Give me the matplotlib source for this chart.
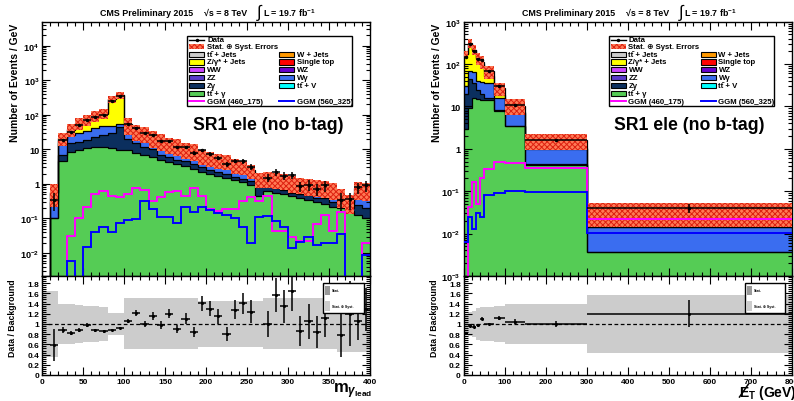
import numpy as np
import matplotlib
matplotlib.use("Agg")
import matplotlib.pyplot as plt
from matplotlib.patches import Rectangle
from matplotlib.lines import Line2D
from matplotlib.ticker import MultipleLocator, LogLocator, FuncFormatter, NullFormatter

plt.rcParams['font.family'] = ['Liberation Sans', 'DejaVu Sans']
plt.rcParams['font.weight'] = 'bold'
plt.rcParams['mathtext.fontset'] = 'custom'
plt.rcParams['mathtext.rm'] = 'Liberation Sans:bold'
plt.rcParams['mathtext.bf'] = 'Liberation Sans:bold'
plt.rcParams['mathtext.it'] = 'Liberation Sans:bold:italic'
plt.rcParams['mathtext.sf'] = 'Liberation Sans:bold'
plt.rcParams['hatch.linewidth'] = 0.7
plt.rcParams['axes.linewidth'] = 1.0

# ---------------- left panel: m_gamma_lead, 10 GeV bins ----------------
m_edges = list(range(0, 410, 10))
m_ttg = [0, 0.1, 4.6, 8.3, 9.8, 11, 11.7, 11.7, 11, 9.8, 9.3, 7.8, 7.0, 6.2, 4.8, 4.3, 3.8, 3.4, 2.7, 2.2,
         2.0, 1.75, 1.5, 1.26, 1.1, 0.9, 0.46, 0.62, 0.55, 0.5, 0.45, 0.38, 0.35, 0.3, 0.26, 0.22, 0.2, 0.16, 0.13, 0.1]
m_zg = [0, 0, 2.1, 6.7, 6.2, 8, 11.3, 14.3, 18, 34, 10.7, 7.2, 5, 4.3, 2.0, 1.7, 1.2, 1.1, 1.1, 0.9,
        0.6, 0.45, 0.4, 0.29, 0.3, 0.3, 0.47, 0.23, 0.2, 0.15, 0.1, 0.12, 0.13, 0.1, 0.12, 0.08, 0.08, 0.04, 0.12, 0.1]
m_wg = [0, 0.2, 8.3, 11, 13, 16, 19, 21, 18, 12, 15, 8, 8, 5.5, 5.0, 4.5, 4.3, 3.8, 2.8, 1.7,
        1.2, 1.2, 1.2, 1.05, 1.0, 0.7, 0.1, 0.35, 0.45, 0.35, 0.35, 0.25, 0.22, 0.2, 0.17, 0.2, 0.07, 0.05, 0.25, 0.3]
m_zjets = [0, 0.25, 4, 10, 24, 32, 48, 60, 235, 316, 14, 8, 7, 4, 4.2, 2.5, 2.3, 1.2, 1.7, 1.0,
           1.2, 0.9, 0.8, 0.5, 0.4, 0.3, 0.2, 0.15, 0.1, 0.2, 0.1, 0.15, 0.1, 0.15, 0.15, 0.1, 0.06, 0.04, 0.05, 0.05]
m_top = [0, 0.05, 2, 3, 4, 5, 6, 7, 8, 8, 4, 3, 3, 2, 2, 1.6, 1.4, 1.0, 1.0, 0.8,
         0.7, 0.7, 0.7, 0.5, 0.4, 0.3, 0.17, 0.15, 0.1, 0.1, 0.1, 0.1, 0.1, 0.1, 0.1, 0.1, 0.04, 0.01, 0.2, 0.15]
m_data = [0, 0.35, 18.5, 32, 50, 70.6, 84.5, 98, 255, 353, 56, 41.5, 30, 25.5, 17.6, 17.5, 11.7, 11.6, 7.9, 9.3,
          7.4, 5.75, 3.7, 4.6, 4.5, 3.1, 0, 1.5, 2.2, 1.75, 1.8, 0.87, 0.95, 0.72, 0.9, 0, 0.35, 0.36, 0.8, 0.9]
m_relerr = [0.65, 0.65, 0.4, 0.4, 0.38, 0.36, 0.35, 0.33, 0.22, 0.22, 0.5, 0.5, 0.5, 0.5, 0.5, 0.5, 0.5, 0.5, 0.5, 0.45,
            0.45, 0.45, 0.45, 0.45, 0.45, 0.45, 0.45, 0.5, 0.5, 0.5, 0.5, 0.5, 0.5, 0.5, 0.5, 0.5, 0.55, 0.55, 0.55, 0.55]
m_ggm460 = [0, 0, 0, 0.031, 0.1, 0.22, 0.51, 0.64, 0.46, 0.43, 0.51, 0.75, 0.67, 0.33, 0.41, 0.6, 0.62, 0.45, 0.75, 0.46,
            0.19, 0.16, 0.19, 0.19, 0.33, 0.41, 0.33, 0.46, 0.044, 0.044, 0.03, 0.022, 0.022, 0.068, 0.13, 0.044, 0.15, 0, 0, 0.019]
m_ggm560 = [0, 0, 0, 0.0058, 0, 0.015, 0.041, 0.055, 0.041, 0.076, 0.09, 0.095, 0.33, 0.19, 0.11, 0.107, 0.076, 0.22, 0.15, 0.22,
            0.17, 0.14, 0.13, 0.1, 0.055, 0.02, 0.11, 0.12, 0.085, 0.058, 0.014, 0.021, 0.03, 0.017, 0.019, 0.02, 0.036, 0, 0, 0.0085]

# ---------------- right panel: MET, variable bins ----------------
met_edges = [0, 10, 20, 30, 40, 50, 75, 100, 150, 300, 800]
met_ttg = [3, 9, 16, 15, 14, 14, 7.7, 3.4, 0.42, 0.0036]
met_zg = [17, 35, 20, 10, 6, 2, 0.5, 0.1, 0.01, 0.0001]
met_wg = [10, 26, 30, 15, 18, 20, 7.8, 3.4, 0.57, 0.011]
met_zjets = [140, 230, 144, 90, 65, 15, 3, 0.5, 0.05, 0.0]
met_top = [7, 10, 10, 9, 10, 18, 8, 3.1, 0.55, 0.0185]
met_data = [145, 295, 209, 135, 125, 69, 30, 11, 1.6, 0.04]
met_relerr = [0.18, 0.24, 0.25, 0.32, 0.34, 0.34, 0.36, 0.4, 0.4, 0.57]
met_ggm460 = [0, 0.043, 0.165, 0.05, 0.2, 0.34, 0.5, 0.47, 0.36, 0.022]
met_ggm560 = [0.0063, 0.025, 0.013, 0.03, 0.025, 0.08, 0.09, 0.1, 0.098, 0.0104]

COL = dict(ttg='#55cc55', zg='#0b2f5e', wg='#3a6df0', zjets='#ffff00', top='#ff0000',
           wjets='#ff9900', ttjets='#cccccc', ww='#cc44ff', wz='#6600cc', zz='#5a3acc', ttv='#00ffff')
BAND_FACE = '#ff7a55'
BAND_HATCH = '#dd2010'

W, H = 794, 402
fig = plt.figure(figsize=(W / 100, H / 100), dpi=100)
fig.patch.set_facecolor('white')


def add_ax(x0, y0, x1, y1):
    return fig.add_axes([x0 / W, 1 - y1 / H, (x1 - x0) / W, (y1 - y0) / H])


TINY = 1e-7


def logfmt(v, pos):
    if v <= 0:
        return ''
    k = int(round(np.log10(v)))
    if abs(v - 10.0 ** k) > 1e-6 * 10.0 ** k:
        return ''
    if k == 0:
        return '1'
    if k == 1:
        return '10'
    return r'$\mathbf{10^{%d}}$' % k


def style(ax, xmaj, xmin, size=6.6):
    ax.tick_params(which='both', direction='in', top=True, right=True, labelsize=size, pad=2, width=0.8)
    ax.tick_params(which='major', length=6)
    ax.tick_params(which='minor', length=3)
    ax.xaxis.set_major_locator(MultipleLocator(xmaj))
    ax.xaxis.set_minor_locator(MultipleLocator(xmin))


def draw_main(ax, edges, comps, data, relerr, sig1, sig2, ylim):
    edges = np.asarray(edges, float)
    widths = np.diff(edges)
    centers = edges[:-1] + widths / 2
    cum = np.zeros(len(widths))
    tops = []
    for vals, col in comps:
        new = cum + np.asarray(vals, float)
        ax.stairs(np.maximum(new, TINY), edges, baseline=np.maximum(cum, TINY), fill=True,
                  facecolor=col, edgecolor='none', lw=0, zorder=1)
        tops.append(new)
        cum = new
    for t in tops:
        ax.stairs(np.maximum(t, TINY), edges, baseline=None, color='k', lw=0.9, zorder=2)
    total = cum
    rel = np.asarray(relerr, float)
    lo = np.where(total > 0, total * (1 - rel), TINY)
    hi = np.where(total > 0, total * (1 + rel), TINY)
    ax.stairs(hi, edges, baseline=lo, fill=True, facecolor=BAND_FACE, edgecolor=BAND_HATCH,
              hatch='xxxxxx', lw=0, zorder=3)
    ax.stairs(np.maximum(np.asarray(sig1, float), TINY), edges, baseline=None, color='#ff00ff', lw=1.4, zorder=4)
    ax.stairs(np.maximum(np.asarray(sig2, float), TINY), edges, baseline=None, color='#0000ff', lw=1.4, zorder=4)
    d = np.asarray(data, float)
    err = np.sqrt(d * widths) / widths
    m = d > 0
    ax.errorbar(centers[m], d[m], xerr=widths[m] / 2, yerr=err[m], fmt='o', ms=1.5, color='k',
                ecolor='k', elinewidth=1.1, capsize=0, zorder=5)
    ax.set_yscale('log')
    ax.set_ylim(*ylim)
    ax.set_xlim(edges[0], edges[-1])
    ax.yaxis.set_major_locator(LogLocator(base=10, numticks=30))
    ax.yaxis.set_minor_locator(LogLocator(base=10, subs=np.arange(2, 10), numticks=30))
    ax.yaxis.set_major_formatter(FuncFormatter(logfmt))
    ax.yaxis.set_minor_formatter(NullFormatter())
    ax.tick_params(labelbottom=False)
    return total, d, err, centers, widths


def draw_ratio(ax, edges, total, d, err, centers, widths, relerr):
    edges = np.asarray(edges, float)
    rel = np.asarray(relerr, float)
    ax.stairs(1 + rel, edges, baseline=1 - rel, fill=True, facecolor='#cccccc', edgecolor='none', lw=0, zorder=1)
    ax.axhline(1, color='k', lw=0.9, ls=(0, (3, 2)), zorder=2)
    m = (d > 0) & (total > 0)
    ax.errorbar(centers[m], d[m] / total[m], xerr=widths[m] / 2, yerr=err[m] / total[m], fmt='o', ms=1.2,
                color='k', ecolor='k', elinewidth=1.1, capsize=0, zorder=3)
    ax.set_xlim(edges[0], edges[-1])
    ax.set_ylim(0, 1.94)
    ax.yaxis.set_major_locator(MultipleLocator(0.2))
    ax.yaxis.set_minor_locator(MultipleLocator(0.04))
    ax.yaxis.set_major_formatter(FuncFormatter(lambda v, p: '%g' % round(v, 2)))


PANELS = [
    (42.0, 370.0, m_edges, [(m_ttg, COL['ttg']), (m_zg, COL['zg']), (m_wg, COL['wg']),
                            (m_zjets, COL['zjets']), (m_top, COL['top'])],
     m_data, m_relerr, m_ggm460, m_ggm560, (2.16e-3, 4.95e4), 50, 10),
    (463.5, 792.0, met_edges, [(met_ttg, COL['ttg']), (met_zg, COL['zg']), (met_wg, COL['wg']),
                               (met_zjets, COL['zjets']), (met_top, COL['top'])],
     met_data, met_relerr, met_ggm460, met_ggm560, (1e-3, 1e3), 100, 20),
]

for (x0, x1, edges, comps, data, rel, s1, s2, ylim, xmaj, xmin) in PANELS:
    axm = add_ax(x0, 22.7, x1, 277)
    style(axm, xmaj, xmin)
    total, d, err, centers, widths = draw_main(axm, edges, comps, data, rel, s1, s2, ylim)
    axr = add_ax(x0, 277, x1, 376)
    style(axr, xmaj, xmin, size=6.0)
    draw_ratio(axr, edges, total, d, err, centers, widths, rel)

# ---------------- overlay for text / legends in pixel coordinates ----------------
ov = fig.add_axes([0, 0, 1, 1], zorder=10)
ov.set_xlim(0, W)
ov.set_ylim(H, 0)
ov.axis('off')

LEFT_COL = [('tt\u0304 + Jets', COL['ttjets'], 55.7), ('Z/\u03b3* + Jets', COL['zjets'], 63.0),
            ('WW', COL['ww'], 70.7), ('ZZ', COL['zz'], 78.6), ('Z\u03b3', COL['zg'], 86.3),
            ('tt\u0304 + \u03b3', COL['ttg'], 94.5)]
RIGHT_COL = [('W + Jets', COL['wjets'], 55.7), ('Single top', COL['top'], 63.0),
             ('WZ', COL['wz'], 70.7), ('W\u03b3', COL['wg'], 78.6), ('tt\u0304 + V', COL['ttv'], 86.3)]

for x0 in (42.0, 463.5):
    # header
    ov.text(x0 + 58, 13, 'CMS Preliminary 2015', fontsize=6.4, va='center', ha='left')
    ov.text(x0 + 162, 13, '\u221as = 8 TeV', fontsize=6.4, va='center', ha='left')
    ov.text(x0 + 215, 12.5, '\u222b', fontsize=12, fontweight='normal', va='center', ha='left')
    ov.text(x0 + 221, 13, 'L = 19.7 fb$^{-1}$', fontsize=6.4, va='center', ha='left')
    # region label
    ov.text(x0 + 151, 126, 'SR1 ele (no b-tag)', fontsize=12.7, va='center', ha='left')
    # legend
    ov.add_patch(Rectangle((x0 + 145, 37), 165, 70, facecolor='white', edgecolor='k', lw=1))
    ov.add_line(Line2D([x0 + 147, x0 + 162], [41, 41], color='k', lw=1))
    ov.add_line(Line2D([x0 + 154.5], [41], color='k', marker='o', ms=1.5))
    ov.text(x0 + 165, 41, 'Data', fontsize=5.6, va='center', ha='left')
    ov.add_patch(Rectangle((x0 + 147, 45.2), 15, 5, facecolor=BAND_FACE, edgecolor=BAND_HATCH,
                           hatch='xxxxxx', lw=0))
    ov.text(x0 + 165, 47.7, 'Stat. \u2295 Syst. Errors', fontsize=5.6, va='center', ha='left')
    for lab, col, yy in LEFT_COL:
        ov.add_patch(Rectangle((x0 + 147, yy - 2.6), 15, 5.2, facecolor=col, edgecolor='k', lw=0.8))
        ov.text(x0 + 165, yy, lab, fontsize=5.6, va='center', ha='left')
    for lab, col, yy in RIGHT_COL:
        ov.add_patch(Rectangle((x0 + 237, yy - 2.6), 15, 5.2, facecolor=col, edgecolor='k', lw=0.8))
        ov.text(x0 + 255, yy, lab, fontsize=5.6, va='center', ha='left')
    ov.add_line(Line2D([x0 + 147, x0 + 162], [102.3, 102.3], color='#ff00ff', lw=1.4))
    ov.text(x0 + 165, 102.3, 'GGM (460_175)', fontsize=5.6, va='center', ha='left')
    ov.add_line(Line2D([x0 + 237, x0 + 252], [102.3, 102.3], color='#0000ff', lw=1.4))
    ov.text(x0 + 255, 102.3, 'GGM (560_325)', fontsize=5.6, va='center', ha='left')
    # ratio legend
    ov.add_patch(Rectangle((x0 + 281, 284), 40.5, 29.5, facecolor='white', edgecolor='k', lw=1))
    ov.add_patch(Rectangle((x0 + 283, 287), 5, 9, facecolor='#999999', edgecolor='none'))
    ov.text(x0 + 290, 291.5, 'Stat.', fontsize=2.6, va='center', ha='left')
    ov.add_patch(Rectangle((x0 + 283, 302), 5, 10, facecolor='#cccccc', edgecolor='none'))
    ov.text(x0 + 290, 307, 'Stat. \u2295 Syst.', fontsize=2.6, va='center', ha='left')
    # y labels
    ov.text(x0 - 27, 83, 'Number of Events / GeV', rotation=90, fontsize=7.5, va='center', ha='center')
    ov.text(x0 - 29, 318, 'Data / Background', rotation=90, fontsize=6.3, va='center', ha='center')

ov.text(372, 381, r'$\mathbf{m}_{\gamma_{\mathbf{lead}}}$', fontsize=12, ha='right', va='top')
# missing-ET label: E with slash, subscript T
ov.text(739, 397, r'E$_{\mathbf{T}}$ (GeV)', fontsize=10, ha='left', va='baseline')
ov.add_line(Line2D([739.5, 748.5], [398, 385], color='k', lw=1.1))

fig.savefig('out.png', dpi=100, facecolor='white')
